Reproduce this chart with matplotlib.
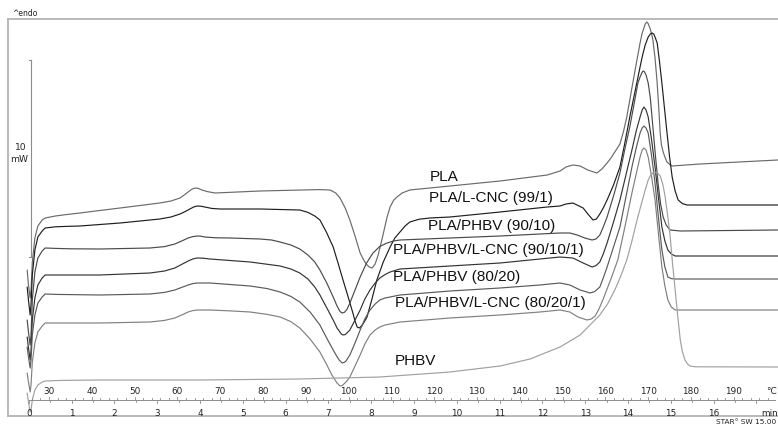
import matplotlib
matplotlib.use("Agg")
import matplotlib.pyplot as plt

# ---------------- data ----------------
# Temperature (°C) and heat flow (mW, endo up, stacked offsets)
pla_T  = [24.9, 25.2, 25.6, 25.8, 26.1, 26.7, 27.4, 28.4, 29.1, 31.5, 34.0, 37.2, 46.6, 55.9, 58.5, 60.6, 61.6,
          62.5, 63.3, 64.1, 64.9, 65.7, 67.0, 68.8, 72.0, 79.3, 93.0, 95.7, 97.0, 98.0, 99.2, 100.3, 101.5,
          102.7, 103.4, 104.1, 104.8, 105.5, 106.2, 106.9, 107.6, 108.3, 109.0, 109.7, 110.5, 111.3, 112.5, 114.3,
          123.7, 135.4, 146.4, 149.4, 150.8, 152.4, 154.1, 155.9, 158.0, 159.2, 160.4, 161.3, 162.2, 163.4, 164.2,
          165.0, 165.7, 166.4, 167.2, 168.1, 168.6, 169.0, 169.3, 169.7, 170.0, 170.4, 170.8, 171.1, 171.6, 172.1,
          172.5, 172.8, 173.1, 173.5, 173.9, 174.4, 175.0, 175.6, 182.1, 200.3]
pla_HF = [7.30, 6.55, 5.90, 6.30, 7.70, 8.90, 9.50, 9.80, 9.90, 10.00, 10.07, 10.15, 10.40, 10.65, 10.75, 10.90, 11.05,
          11.20, 11.33, 11.40, 11.38, 11.30, 11.22, 11.15, 11.18, 11.25, 11.32, 11.30, 11.15, 10.90, 10.40, 9.80, 9.00,
          8.15, 7.85, 7.60, 7.45, 7.40, 7.60, 8.05, 8.65, 9.30, 9.95, 10.45, 10.78, 10.95, 11.15, 11.30,
          11.50, 11.75, 12.05, 12.25, 12.45, 12.55, 12.50, 12.30, 12.15, 12.35, 12.65, 12.90, 13.20, 13.60, 14.20,
          14.95, 15.80, 16.65, 17.60, 18.65, 19.15, 19.40, 19.60, 19.70, 19.62, 19.40, 19.10, 18.80, 17.90, 16.65,
          15.30, 14.15, 13.55, 13.20, 12.95, 12.70, 12.58, 12.50, 12.60, 12.80]

lcnc_T  = [24.9, 25.2, 25.6, 25.8, 26.1, 26.7, 27.4, 28.4, 29.1, 31.5, 34.0, 37.2, 46.6, 55.9, 58.5, 60.6, 61.8,
           62.9, 63.8, 64.6, 65.5, 66.4, 68.0, 70.0, 79.3, 88.6, 90.5, 92.1, 93.3, 94.8, 96.4, 97.6, 98.7, 99.9,
           101.0, 101.5, 102.0, 102.5, 103.1, 103.7, 104.3, 105.4, 106.6, 108.1, 109.7, 110.8, 112.0, 113.2, 114.3,
           116.5, 119.0, 123.7, 135.4, 146.4, 149.4, 150.8, 152.4, 154.8, 155.9, 157.1, 157.9, 158.7, 159.5, 160.4,
           161.9, 163.4, 164.5, 165.7, 166.9, 168.1, 168.7, 169.3, 170.0, 170.5, 170.9, 171.3, 171.6, 172.1, 172.6,
           173.2, 173.8, 174.4, 175.0, 175.6, 176.3, 177.0, 178.0, 179.1, 182.1, 200.3]
lcnc_HF = [6.45, 5.80, 5.05, 5.55, 7.05, 8.30, 8.95, 9.25, 9.40, 9.46, 9.48, 9.50, 9.65, 9.85, 9.95, 10.10, 10.22,
           10.35, 10.45, 10.50, 10.49, 10.45, 10.38, 10.35, 10.35, 10.30, 10.18, 10.00, 9.80, 9.20, 8.45, 7.60, 6.80, 5.95,
           5.15, 4.75, 4.45, 4.40, 4.52, 4.72, 4.95, 5.80, 6.80, 7.70, 8.45, 8.90, 9.20, 9.50, 9.70,
           9.84, 9.90, 9.95, 10.20, 10.45, 10.50, 10.60, 10.65, 10.40, 10.10, 9.80, 9.85, 10.10, 10.40, 10.80,
           11.55, 12.45, 13.60, 14.95, 16.20, 17.45, 18.05, 18.55, 18.95, 19.10, 19.15, 19.10, 18.95, 18.65, 17.80,
           16.65, 15.40, 14.15, 12.95, 11.95, 11.25, 10.80, 10.62, 10.55, 10.55, 10.55]

p9010_T  = [24.9, 25.2, 25.6, 25.8, 26.1, 26.7, 27.4, 28.4, 29.1, 31.5, 35.0, 41.9, 53.6, 57.0, 59.4, 61.0, 62.5,
            63.6, 64.6, 65.5, 66.4, 69.0, 72.3, 79.3, 82.0, 84.0, 86.5, 88.6, 90.5, 92.1, 93.3, 94.9, 96.4, 97.3,
            98.0, 98.5, 99.0, 99.6, 100.3, 101.5, 102.7, 104.2, 105.7, 107.3, 109.0, 110.5, 112.0, 123.7, 135.4,
            144.7, 149.4, 151.7, 153.4, 155.2, 156.9, 157.8, 158.7, 159.5, 160.4, 161.9, 163.4, 164.5, 165.7, 166.7,
            167.6, 168.1, 168.5, 168.8, 169.1, 169.5, 170.0, 170.5, 171.1, 171.7, 172.3, 172.9, 173.5, 174.2, 175.1,
            177.5, 200.3]
p9010_HF = [4.80, 4.20, 3.55, 4.05, 5.80, 7.20, 7.90, 8.25, 8.40, 8.38, 8.36, 8.35, 8.40, 8.47, 8.60, 8.75, 8.90,
            8.97, 9.00, 8.99, 8.95, 8.91, 8.90, 8.85, 8.80, 8.70, 8.55, 8.35, 8.05, 7.70, 7.30, 6.65, 5.95, 5.50,
            5.22, 5.15, 5.18, 5.32, 5.65, 6.30, 6.95, 7.65, 8.15, 8.48, 8.65, 8.75, 8.80, 8.90, 9.00,
            9.10, 9.15, 9.15, 9.05, 8.90, 8.80, 8.85, 9.05, 9.45, 9.95, 11.00, 12.15, 13.30, 14.45, 15.60,
            16.65, 16.95, 17.15, 17.25, 17.22, 17.05, 16.65, 15.90, 14.45, 13.00, 11.65, 10.60, 9.95, 9.55, 9.30,
            9.25, 9.30]

p90101_T  = [24.9, 25.2, 25.6, 25.8, 26.1, 26.7, 27.4, 28.4, 29.1, 31.5, 41.9, 53.6, 57.0, 59.4, 61.0, 62.5, 63.6,
             64.6, 66.0, 67.6, 77.0, 84.0, 86.5, 88.6, 90.5, 92.1, 93.3, 94.8, 96.4, 97.3, 97.8, 98.3, 98.7, 99.2,
             99.6, 100.3, 101.5, 102.7, 103.8, 105.0, 106.2, 107.3, 108.5, 109.7, 112.0, 123.7, 135.4, 144.7, 149.4,
             152.4, 154.8, 156.9, 157.8, 158.7, 159.5, 160.4, 161.9, 163.4, 164.8, 166.2, 167.2, 168.1, 168.6, 169.0,
             169.5, 170.0, 170.8, 171.6, 172.4, 173.2, 173.9, 174.6, 175.4, 176.3, 200.3]
p90101_HF = [3.95, 3.40, 2.80, 3.30, 4.80, 5.90, 6.55, 6.90, 7.05, 7.05, 7.05, 7.15, 7.25, 7.40, 7.58, 7.75, 7.85,
             7.90, 7.89, 7.85, 7.70, 7.50, 7.35, 7.15, 6.85, 6.45, 6.05, 5.45, 4.80, 4.40, 4.25, 4.10, 4.05, 4.07,
             4.15, 4.30, 4.80, 5.30, 5.85, 6.30, 6.65, 6.90, 7.07, 7.20, 7.35, 7.50, 7.65, 7.85, 7.95,
             7.90, 7.65, 7.45, 7.52, 7.70, 8.10, 8.65, 9.70, 10.80, 12.05, 13.30, 14.25, 14.95, 15.30, 15.45,
             15.30, 14.95, 13.80, 12.45, 10.90, 9.45, 8.75, 8.30, 8.10, 8.00, 8.00]

p8020_T  = [24.9, 25.2, 25.6, 25.8, 26.1, 26.7, 27.4, 28.4, 29.1, 31.5, 41.9, 53.6, 57.0, 59.4, 61.0, 62.5, 63.6,
            64.6, 67.6, 72.0, 77.0, 81.0, 84.0, 86.5, 88.6, 91.0, 93.3, 95.0, 96.4, 97.2, 97.8, 98.5, 99.0, 99.4,
            100.3, 101.5, 102.7, 103.8, 105.0, 106.2, 107.3, 108.5, 109.7, 112.0, 123.7, 135.4, 144.7, 149.4, 151.7,
            154.1, 156.4, 157.5, 158.7, 159.5, 160.4, 161.9, 163.4, 164.8, 166.2, 167.2, 168.1, 168.6, 169.0, 169.5,
            170.0, 170.8, 171.6, 172.4, 173.2, 173.9, 174.6, 175.4, 176.3, 200.3]
p8020_HF = [3.45, 2.95, 2.40, 2.80, 4.05, 5.05, 5.65, 5.95, 6.10, 6.08, 6.05, 6.10, 6.18, 6.30, 6.43, 6.55, 6.62,
            6.65, 6.65, 6.58, 6.50, 6.37, 6.20, 5.98, 5.70, 5.20, 4.55, 3.85, 3.30, 3.00, 2.80, 2.65, 2.68, 2.75,
            3.05, 3.65, 4.30, 4.85, 5.30, 5.60, 5.80, 5.90, 5.95, 6.05, 6.25, 6.40, 6.55, 6.65, 6.55,
            6.30, 6.15, 6.22, 6.45, 6.90, 7.45, 8.45, 9.45, 10.95, 12.45, 13.40, 14.15, 14.40, 14.50, 14.40,
            14.15, 13.00, 11.65, 9.90, 8.30, 7.45, 6.95, 6.87, 6.85, 6.85]

p80201_T  = [24.9, 25.2, 25.6, 25.8, 26.1, 26.7, 27.4, 28.4, 29.1, 31.5, 41.9, 53.6, 57.0, 59.4, 61.0, 62.5, 63.6,
             64.6, 67.6, 72.0, 77.0, 81.0, 84.0, 86.5, 88.6, 91.0, 93.3, 94.8, 96.1, 97.3, 98.0, 98.5, 98.9, 99.6,
             100.3, 101.5, 102.7, 103.8, 105.0, 106.2, 107.3, 108.5, 109.7, 112.0, 123.7, 135.4, 144.7, 149.4, 151.7,
             153.6, 155.7, 156.7, 157.6, 158.5, 159.4, 161.2, 162.9, 164.6, 166.2, 167.2, 168.1, 168.6, 169.0, 169.5,
             170.0, 170.8, 171.6, 172.4, 173.2, 173.9, 174.6, 175.4, 176.3, 200.3]
p80201_HF = [2.15, 1.70, 1.20, 1.55, 2.70, 3.65, 4.20, 4.50, 4.65, 4.65, 4.65, 4.70, 4.78, 4.90, 5.05, 5.20, 5.27,
             5.30, 5.30, 5.26, 5.20, 5.08, 4.95, 4.72, 4.40, 3.85, 3.20, 2.60, 2.05, 1.65, 1.50, 1.52, 1.60, 1.75,
             1.95, 2.50, 3.05, 3.60, 4.05, 4.30, 4.45, 4.55, 4.60, 4.70, 4.90, 5.05, 5.20, 5.30, 5.20,
             4.95, 4.80, 4.85, 5.00, 5.35, 5.80, 6.80, 7.80, 9.50, 11.15, 12.10, 12.95, 13.30, 13.40, 13.30,
             12.95, 11.95, 10.80, 9.10, 7.45, 6.50, 5.80, 5.45, 5.30, 5.30]

phbv_T  = [24.9, 25.2, 25.6, 25.8, 26.1, 26.7, 27.4, 28.4, 29.1, 33.0, 41.9, 65.3, 88.6, 107.3, 123.7, 135.4, 142.4,
           149.4, 154.1, 158.7, 160.5, 162.2, 163.6, 165.0, 166.2, 167.4, 168.4, 169.3, 170.0, 170.6, 171.2, 171.6,
           172.2, 172.8, 173.4, 173.9, 174.5, 175.1, 175.7, 176.3, 176.9, 177.5, 178.0, 178.6, 179.2, 179.8, 181.0,
           200.3]
phbv_HF = [1.15, 0.70, 0.20, 0.30, 0.80, 1.30, 1.55, 1.70, 1.75, 1.78, 1.80, 1.80, 1.85, 1.95, 2.20, 2.50, 2.85,
           3.45, 4.05, 5.05, 5.60, 6.30, 7.00, 7.80, 8.75, 9.80, 10.60, 11.30, 11.80, 12.05, 12.18, 12.20,
           12.15, 12.00, 11.60, 11.05, 10.10, 9.05, 7.60, 6.30, 5.00, 3.80, 3.20, 2.80, 2.60, 2.50, 2.46,
           2.45]

series_names = ["PLA", "PLA/L-CNC (99/1)", "PLA/PHBV (90/10)", "PLA/PHBV/L-CNC (90/10/1)",
                "PLA/PHBV (80/20)", "PLA/PHBV/L-CNC (80/20/1)", "PHBV"]

temp_ticks = [30, 40, 50, 60, 70, 80, 90, 100, 110, 120, 130, 140, 150, 160, 170, 180, 190]
time_ticks = [0, 1, 2, 3, 4, 5, 6, 7, 8, 9, 10, 11, 12, 13, 14, 15, 16]
start_temp = 25.3      # °C at t = 0
heating_rate = 10.0    # °C / min

# ---------------- figure ----------------
W, H = 778, 428
fig = plt.figure(figsize=(W / 100, H / 100), dpi=100)
ax = fig.add_axes([8 / W, 12 / H, 770 / W, 397 / H])
ax.set_xlim(20.42, 200.33)
ax.set_ylim(0, 19.85)
ax.set_xticks([])
ax.set_yticks([])
for s in ["left", "top", "bottom"]:
    ax.spines[s].set_color("#b4b4b4")
    ax.spines[s].set_linewidth(1.3)
ax.spines["right"].set_visible(False)

curves = [
    (pla_T, pla_HF, "#6a6a6a"),
    (lcnc_T, lcnc_HF, "#1e1e1e"),
    (p9010_T, p9010_HF, "#4a4a4a"),
    (p90101_T, p90101_HF, "#333333"),
    (p8020_T, p8020_HF, "#5a5a5a"),
    (p80201_T, p80201_HF, "#808080"),
    (phbv_T, phbv_HF, "#a0a0a0"),
]
for T, HF, c in curves:
    ax.plot(T, HF, color=c, lw=0.85, solid_joinstyle="round", solid_capstyle="round")

# curve labels (left x in °C, vertical centre in mW)
label_pos = [(119.0, 11.95), (118.8, 10.9), (118.6, 9.5), (110.4, 8.3),
             (110.4, 6.95), (110.8, 5.65), (110.8, 2.75)]
for name, (tx, ty) in zip(series_names, label_pos):
    ax.text(tx, ty, name, fontsize=11, family="Liberation Sans", ha="left", va="center", color="#111111")

# ---------------- STARe style axis inside the frame ----------------
axis_y = 0.80
tick_col = "#8c8c8c"
x_end = 199.6
ax.plot([start_temp, x_end], [axis_y, axis_y], color=tick_col, lw=0.7)
t = 26
while t <= 199:
    h = 0.16 if t % 10 == 0 else 0.09
    ax.plot([t, t], [axis_y, axis_y + h], color=tick_col, lw=0.6)
    t += 2
m = 0.0
while m <= 17.4:
    Tm = start_temp + heating_rate * m
    h = 0.16 if abs(m - round(m)) < 1e-6 else 0.09
    ax.plot([Tm, Tm], [axis_y, axis_y - h], color=tick_col, lw=0.6)
    m += 0.5

for tt in temp_ticks:
    ax.text(tt, 1.25, str(tt), fontsize=6.4, ha="center", va="center", color="#222222")
ax.text(198.9, 1.25, "°C", fontsize=6.4, ha="center", va="center", color="#222222")
for mm in time_ticks:
    ax.text(start_temp + heating_rate * mm, 0.15, str(mm), fontsize=6.4, ha="center", va="center", color="#222222")
ax.text(198.4, 0.15, "min", fontsize=6.4, ha="center", va="center", color="#222222")

# scale bar (10 mW)
bar_T = 25.8
ax.plot([bar_T, bar_T], [7.95, 17.8], color="#8c8c8c", lw=0.8)
ax.plot([bar_T - 0.5, bar_T], [17.8, 17.8], color="#8c8c8c", lw=0.8)
ax.plot([bar_T - 0.5, bar_T], [7.95, 7.95], color="#8c8c8c", lw=0.8)
ax.text(23.4, 13.45, "10", fontsize=6.6, ha="center", va="center", color="#222222")
ax.text(23.0, 12.8, "mW", fontsize=6.6, ha="center", va="center", color="#222222")

fig.text(12 / W, 1 - 13 / H, "^endo", fontsize=5.5, ha="left", va="center", color="#222222")
fig.text(776 / W, 1 - 422 / H, "STAR\u00b0 SW 15.00", fontsize=5.3, ha="right", va="center", color="#222222")

fig.savefig("out.png", dpi=100)
